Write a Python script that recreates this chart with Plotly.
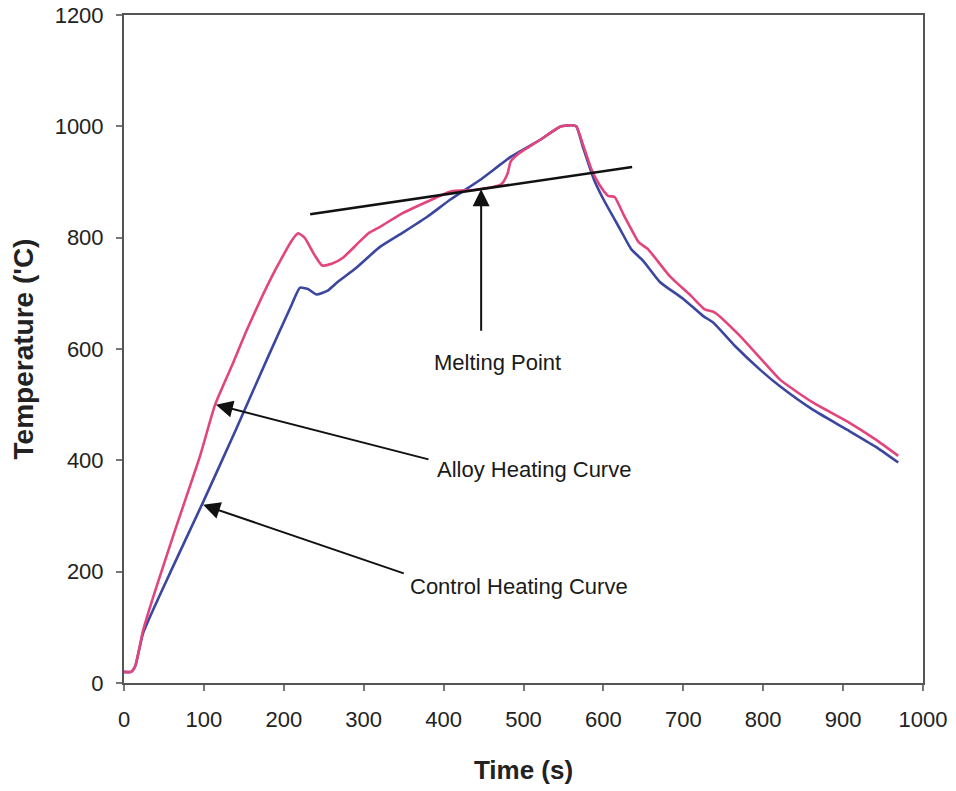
import plotly.graph_objects as go

# Control heating curve (blue)
control_time = [0, 9, 14, 24, 60, 99, 140, 180, 210, 220, 230, 241, 255, 267, 290, 320, 350, 380, 409, 447, 484, 520, 547, 560, 566,
                575, 588, 600, 621, 635, 650, 671, 700, 725, 737, 765, 796, 821, 862, 905, 940, 969]
control_temp = [20, 20, 30, 90, 205, 325, 455, 585, 680, 710, 708, 698, 705, 720, 745, 783, 810, 838, 869, 905, 945, 975, 1000, 1002, 1000,
                960, 905, 869, 815, 779, 758, 720, 690, 659, 648, 605, 563, 533, 491, 455, 425, 396]

# Alloy heating curve (pink)
alloy_time = [0, 9, 14, 24, 40, 64, 95, 114, 135, 154, 185, 210, 218, 226, 238, 248, 260, 274, 290, 306, 320, 346, 380, 409, 440, 472,
              480, 484, 493, 520, 547, 560, 566, 575, 585, 595, 606, 614, 625, 635, 644, 656, 683, 710, 727, 739, 770, 798, 821, 862, 905, 940, 969]
alloy_temp = [20, 20, 30, 95, 170, 275, 407, 500, 570, 635, 730, 795, 808, 800, 770, 750, 753, 764, 786, 808, 819, 842, 865, 883, 886, 896,
              915, 937, 950, 975, 1000, 1002, 1000, 965, 923, 895, 875, 873, 842, 815, 792, 779, 731, 695, 671, 666, 625, 581, 545, 504, 470, 438, 408]

# Melting point line
melt_time = [233, 636]
melt_temp = [842, 927]

x_ticks = [0, 100, 200, 300, 400, 500, 600, 700, 800, 900, 1000]
y_ticks = [0, 200, 400, 600, 800, 1000, 1200]

PINK = "#E2457E"
BLUE = "#3A46A0"
FONT = "Liberation Sans, Arial, sans-serif"

fig = go.Figure()
fig.add_trace(go.Scatter(x=control_time, y=control_temp, mode="lines",
                         line=dict(color=BLUE, width=2.6, shape="spline", smoothing=0.5),
                         name="Control Heating Curve", showlegend=False))
fig.add_trace(go.Scatter(x=alloy_time, y=alloy_temp, mode="lines",
                         line=dict(color=PINK, width=2.6, shape="spline", smoothing=0.5),
                         name="Alloy Heating Curve", showlegend=False))
fig.add_trace(go.Scatter(x=melt_time, y=melt_temp, mode="lines",
                         line=dict(color="#111111", width=2.6),
                         name="Melting Point", showlegend=False))

arrows = [
    dict(x=447, y=887, ax=447, ay=630),   # melting point
    dict(x=115, y=500, ax=383, ay=401),   # alloy
    dict(x=99, y=320, ax=352, ay=196),    # control
]
for a in arrows:
    fig.add_annotation(x=a["x"], y=a["y"], ax=a["ax"], ay=a["ay"], xref="x", yref="y",
                       axref="x", ayref="y", text="", showarrow=True,
                       arrowhead=2, arrowsize=1.7, arrowwidth=2, arrowcolor="#111111", standoff=0)

font_ann = dict(family=FONT, size=22, color="#1a1a1a")
fig.add_annotation(x=468, y=576, xref="x", yref="y", text="Melting Point", showarrow=False,
                   xanchor="center", yanchor="middle", font=font_ann)
fig.add_annotation(x=389, y=383, xref="x", yref="y", text="Alloy Heating Curve", showarrow=False,
                   xanchor="left", yanchor="middle", font=font_ann)
fig.add_annotation(x=355, y=173, xref="x", yref="y", text="Control Heating Curve", showarrow=False,
                   xanchor="left", yanchor="middle", font=font_ann)

axis_common = dict(showgrid=False, zeroline=False, showline=True, linecolor="#555555", linewidth=2,
                   mirror=True, ticks="outside", ticklen=6, tickwidth=1.5, tickcolor="#777777",
                   automargin=False,
                   tickfont=dict(family=FONT, size=22, color="#222222"))

fig.update_xaxes(range=[0, 1000], tickvals=x_ticks, ticktext=[str(v) for v in x_ticks],
                 ticklabelstandoff=10,
                 title=dict(text="<b>Time (s)</b>", standoff=29,
                            font=dict(family=FONT, size=26, color="#222222")),
                 **axis_common)
fig.update_yaxes(range=[0, 1200], tickvals=y_ticks, ticktext=[str(v) for v in y_ticks],
                 ticklabelstandoff=8,
                 title=dict(text="<b>Temperature ('C)</b>", standoff=13,
                            font=dict(family=FONT, size=28, color="#222222")),
                 **axis_common)

fig.update_layout(width=956, height=791, plot_bgcolor="white", paper_bgcolor="white",
                  margin=dict(l=124, r=33, t=15, b=108), showlegend=False)

fig.write_html("out.html")
